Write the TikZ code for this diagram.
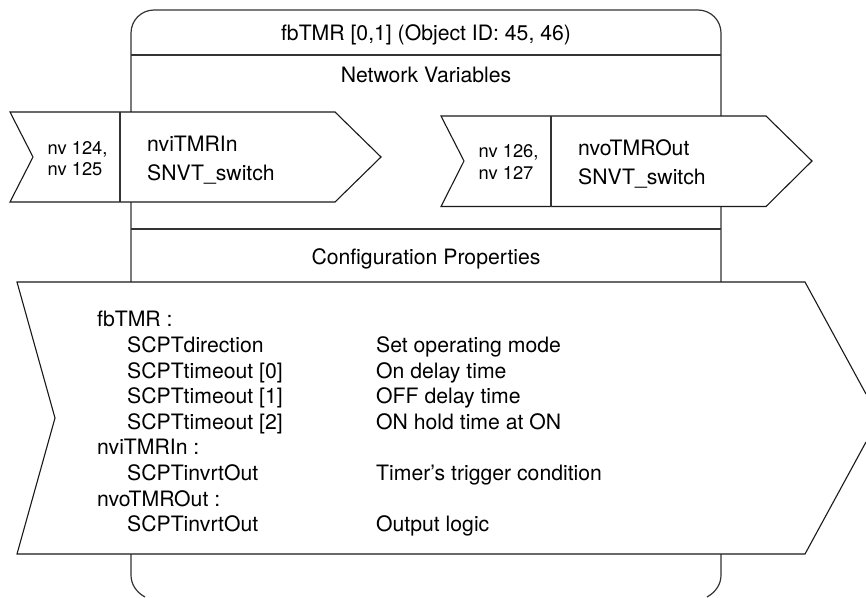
\documentclass[tikz,border=0pt]{standalone}
\usepackage{fontspec}
\setmainfont{TeX Gyre Heros}
\tikzset{
  x=1pt,y=-1pt,
  frameline/.style={draw=black!80,line width=1.2pt},
  shapeline/.style={draw=black!90,line width=1.1pt,line join=miter,fill=white},
  big/.style={font=\fontsize{21.2}{21.2}\selectfont,inner sep=0pt},
  ttl/.style={big,anchor=base},
  lbl/.style={big,anchor=base west},
  small/.style={font=\fontsize{18.3}{18.3}\selectfont,inner sep=0pt,anchor=base west},
}
\begin{document}
\begin{tikzpicture}
\useasboundingbox (0,0) rectangle (866,597);
% outer frame
\draw[frameline] (145,597) .. controls (136,592) and (131,584) .. (131,575)
  -- (131,33) .. controls (131,20.3) and (141.3,10) .. (154,10) -- (698,10)
  .. controls (710.7,10) and (721,20.3) .. (721,33) -- (721,575)
  .. controls (721,584) and (716,592) .. (707,597);
\coordinate (s1l) at (131,55); \coordinate (s1r) at (721,55);
\coordinate (s2l) at (131,229); \coordinate (s2r) at (721,229);
\draw[frameline] (s1l) -- (s1r);
\draw[frameline] (s2l) -- (s2r);
% input arrow
\draw[shapeline] (10,112) -- (335,112) -- (381,157) -- (335,202) -- (10,202) -- (33,157) -- cycle;
\coordinate (d1t) at (120,112); \coordinate (d1b) at (120,202);
\draw[frameline] (d1t) -- (d1b);
% output arrow
\draw[shapeline] (441,116) -- (766,116) -- (812,161) -- (766,206.5) -- (441,206.5) -- (464,161) -- cycle;
\coordinate (d2t) at (551,116); \coordinate (d2b) at (551,206.5);
\draw[frameline] (d2t) -- (d2b);
% configuration arrow (runs off the right edge)
\fill[white] (17,282) -- (805,282) -- (866,394) -- (866,442) -- (805,554) -- (17,554) -- (55,418) -- cycle;
\draw[shapeline,fill=none] (866,394) -- (805,282) -- (17,282) -- (55,418) -- (17,554) -- (805,554) -- (866,442);
% texts
\node[ttl] (title) at (426,40) {fbTMR [0,1] (Object ID: 45, 46)};
\node[ttl] (nvhead) at (426,82) {Network Variables};
\node[ttl] (cphead) at (426,264) {Configuration Properties};
\node[small] (a1) at (47.5,154) {nv 124,};
\node[small] (a2) at (47.5,175) {nv 125};
\node[lbl] (a3) at (147,151) {nviTMRIn};
\node[lbl] (a4) at (147,180) {SNVT\_switch};
\node[small] (b1) at (478.5,157) {nv 126,};
\node[small] (b2) at (478.5,179) {nv 127};
\node[lbl] (b3) at (578,155) {nvoTMROut};
\node[lbl] (b4) at (578,184) {SNVT\_switch};
\node[lbl] (c1) at (97,326) {fbTMR :};
\node[lbl] (c2) at (127,352) {SCPTdirection};
\node[lbl] (c3) at (127,378) {SCPTtimeout [0]};
\node[lbl] (c4) at (127,403) {SCPTtimeout [1]};
\node[lbl] (c5) at (127,429) {SCPTtimeout [2]};
\node[lbl] (c6) at (97,454) {nviTMRIn :};
\node[lbl] (c7) at (127,480) {SCPTinvrtOut};
\node[lbl] (c8) at (97,506) {nvoTMROut :};
\node[lbl] (c9) at (127,531) {SCPTinvrtOut};
\node[lbl] (d1) at (376,352) {Set operating mode};
\node[lbl] (d2) at (376,378) {On delay time};
\node[lbl] (d3) at (376,403) {OFF delay time};
\node[lbl] (d4) at (376,429) {ON hold time at ON};
\node[lbl] (d5) at (376,480) {Timer’s trigger condition};
\node[lbl] (d6) at (376,531) {Output logic};
\end{tikzpicture}
\end{document}
